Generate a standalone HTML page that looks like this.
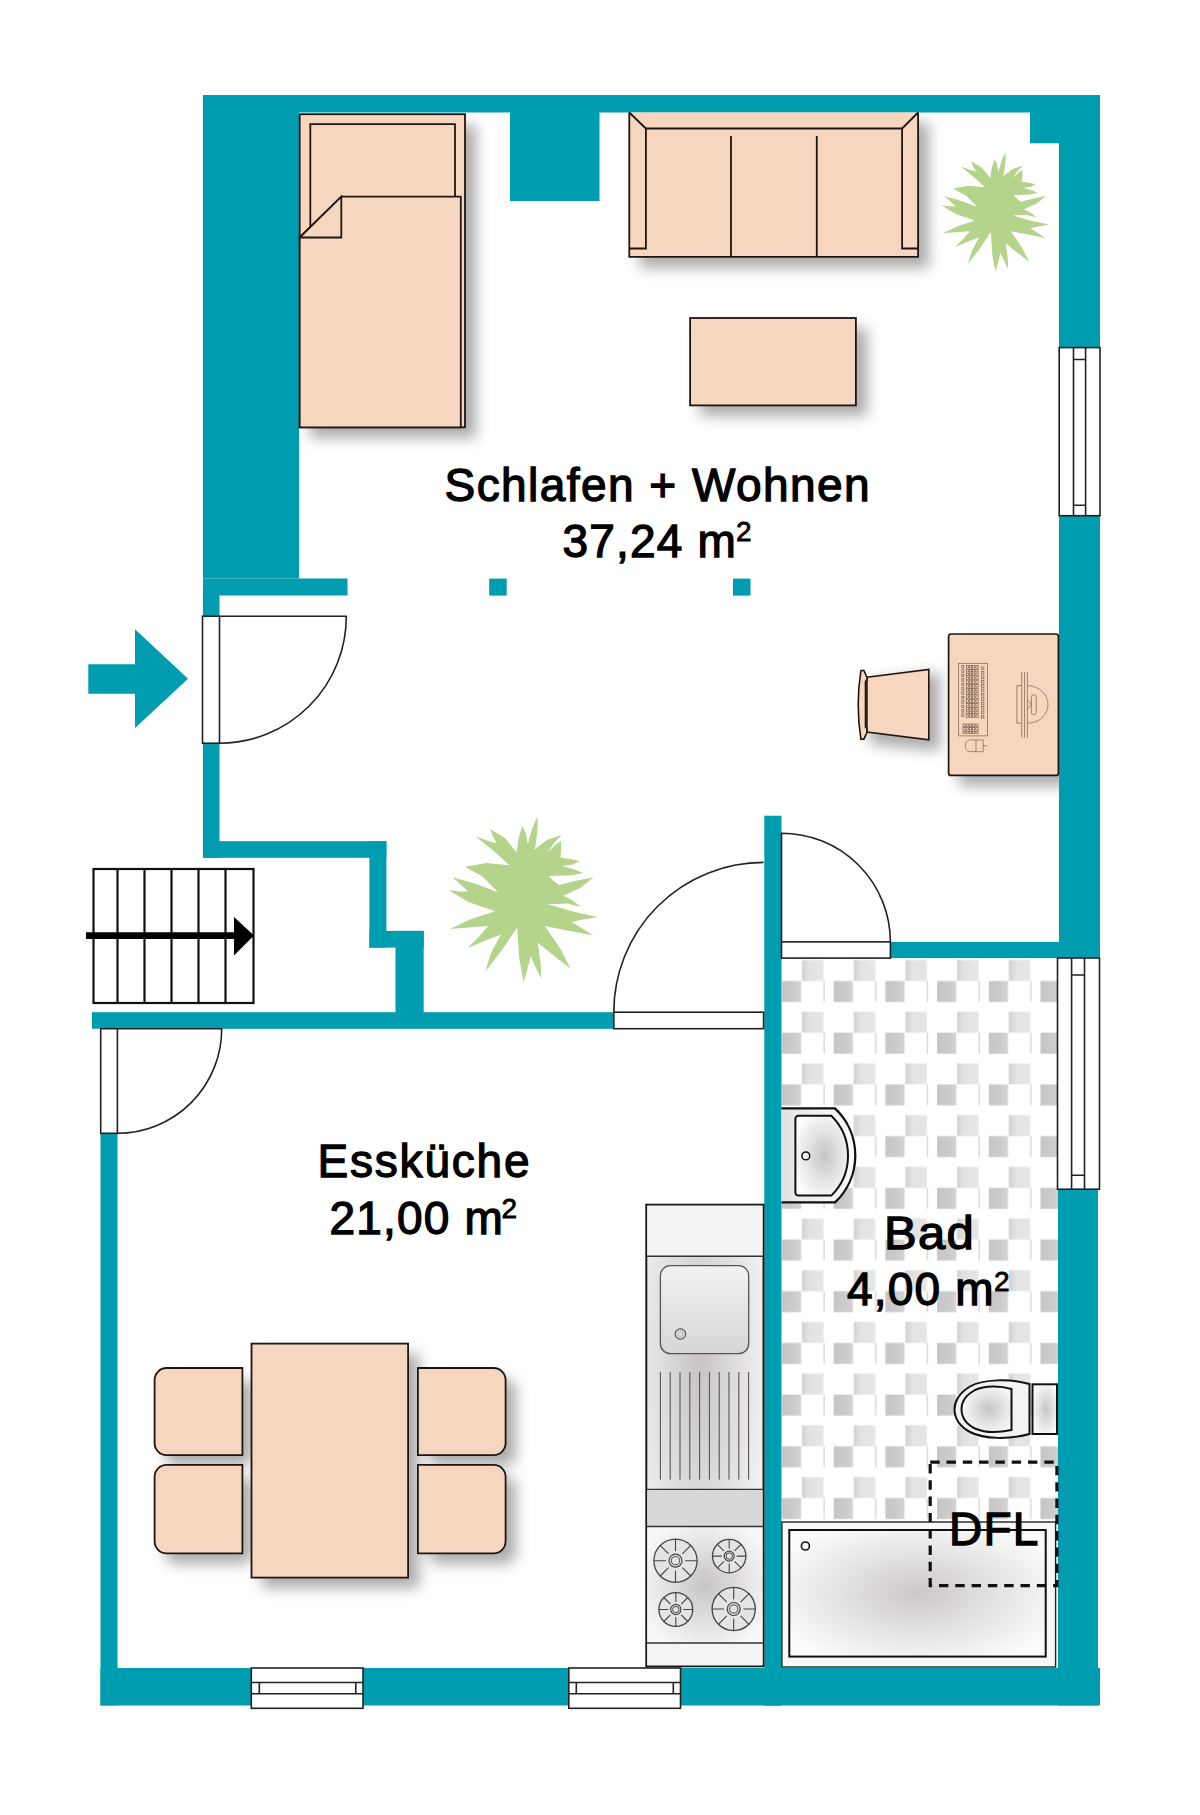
<!DOCTYPE html>
<html><head><meta charset="utf-8">
<style>
html,body{margin:0;padding:0;background:#fff;width:1200px;height:1815px;overflow:hidden}
svg{display:block;position:absolute;left:0;top:0}
text{font-family:"Liberation Sans",sans-serif;fill:#000}
</style></head>
<body>
<svg width="1200" height="1815" viewBox="0 0 1200 1815">
<defs>
<filter id="sh" x="-30%" y="-30%" width="160%" height="160%"><feGaussianBlur stdDeviation="7"/></filter>

<!-- BAD TILES -->
<linearGradient id="lt" x1="0" y1="0" x2="1" y2="0"><stop offset="0" stop-color="#d2d2d2"/><stop offset="0.35" stop-color="#e3e3e3"/><stop offset="1" stop-color="#e6e6e6"/></linearGradient>
<linearGradient id="dk" x1="0" y1="0" x2="1" y2="0"><stop offset="0" stop-color="#c6c6c6"/><stop offset="0.6" stop-color="#cbcbcb"/><stop offset="1" stop-color="#d4d4d4"/></linearGradient>
<pattern id="tiles" patternUnits="userSpaceOnUse" x="782" y="959.5" width="51.7" height="51.7">
<rect x="20" y="0.5" width="21.5" height="21" fill="url(#lt)"/>
<rect x="0" y="21.5" width="19.2" height="21" fill="url(#dk)"/>
<rect x="41.5" y="21.5" width="1" height="21" fill="#c9c9c9"/>
</pattern>

<radialGradient id="sinkg" cx="0.55" cy="0.5" r="0.6"><stop offset="0" stop-color="#c9c5c5"/><stop offset="1" stop-color="#fdfdfd"/></radialGradient>
<radialGradient id="tubg" cx="0.5" cy="0.5" r="0.6"><stop offset="0" stop-color="#cdc8c8"/><stop offset="1" stop-color="#fbfbfb"/></radialGradient>
<radialGradient id="stoveg" cx="0.5" cy="0.5" r="0.6"><stop offset="0" stop-color="#c8c4c4"/><stop offset="1" stop-color="#f8f8f8"/></radialGradient>
<linearGradient id="basing" x1="0" y1="0" x2="0" y2="1"><stop offset="0" stop-color="#f2f2f2"/><stop offset="1" stop-color="#d6d6d6"/></linearGradient>
<radialGradient id="ctrg" cx="0.45" cy="0.35" r="0.7"><stop offset="0" stop-color="#c8c4c4"/><stop offset="1" stop-color="#fbfbfb"/></radialGradient>

<linearGradient id="sinkout" x1="0" y1="0" x2="1" y2="0"><stop offset="0" stop-color="#e2e2e2"/><stop offset="0.5" stop-color="#f3f3f3"/><stop offset="1" stop-color="#fafafa"/></linearGradient>
</defs>
<rect width="1200" height="1815" fill="#fff"/>


<!-- tiles area -->
<rect x="781.5" y="958" width="276.5" height="564" fill="url(#tiles)"/>

<!-- SHADOWS -->
<g fill="#5e5e5e" opacity="0.52" filter="url(#sh)">
<rect x="310" y="125" width="166" height="313"/>
<rect x="640" y="123" width="289" height="145"/>
<rect x="700" y="328" width="167" height="88"/>
<rect x="959" y="645" width="110" height="141"/>
<path d="M870 681 L940 673 V751 L870 744 Z"/>
<rect x="262" y="1354" width="157" height="234"/>
<rect x="165" y="1379" width="88" height="87" rx="12"/>
<rect x="165" y="1476" width="88" height="88" rx="12"/>
<rect x="428" y="1379" width="88" height="87" rx="12"/>
<rect x="428" y="1476" width="88" height="88" rx="12"/>
</g>
<!-- WALLS -->
<g fill="#009cb0">
<rect x="203" y="95" width="897" height="17.5"/>
<rect x="203" y="95" width="96" height="483.5"/>
<rect x="203" y="578.5" width="144.5" height="17"/>
<rect x="203" y="595" width="16.5" height="21.5"/>
<rect x="203" y="743" width="16.5" height="114.8"/>
<rect x="203" y="841.2" width="183.4" height="16.6"/>
<rect x="369.4" y="841.2" width="17" height="106.4"/>
<rect x="369.4" y="930.9" width="54.3" height="16.7"/>
<rect x="395.5" y="930.9" width="28.2" height="90"/>
<rect x="92" y="1012.2" width="522" height="16.6"/>
<rect x="510" y="95" width="89.5" height="106"/>
<rect x="1030" y="95" width="70" height="48.3"/>
<rect x="1059" y="95" width="41" height="253"/>
<rect x="1059" y="515.7" width="41" height="442.4"/>
<rect x="890.4" y="941.9" width="209.6" height="16.2"/>
<rect x="764.3" y="815.7" width="17.2" height="890"/>
<rect x="1058" y="1189" width="40" height="516.5"/>
<rect x="100.5" y="1668" width="999.5" height="37.5"/>
<rect x="100.5" y="1133.3" width="17" height="572.2"/>
<rect x="489.2" y="578.6" width="17.5" height="17"/>
<rect x="733" y="578.6" width="17.5" height="17"/>
<!-- entry arrow -->
<path d="M88.3 664.3 H135 V629.3 L188 678.8 L135 728 V693.8 H88.3 Z"/>
</g>


<g stroke="#1e1612" stroke-width="1.8" fill="#f6d6bf" stroke-linejoin="miter">
<!-- BED -->
<rect x="299.7" y="114.2" width="165.3" height="313.1"/>
<path d="M310.3 227.1 V124.2 H455 V196.7" fill="none"/>
<path d="M341.3 196.7 H460.8 V427.3 H299.7 V237.5 Z"/>
<path d="M299.7 237.5 L341.3 196.7 V237.5 Z"/>
<!-- SOFA -->
<rect x="629.3" y="112.5" width="288.8" height="144.3" stroke="none"/><path d="M629.3 112.5 V256.8 H918.1 V112.5" fill="none"/>
<path d="M629.3 112.5 L645.9 128.5 H902.1 L918.1 112.5 M645.9 128.5 V248.5 H629.3 M902.1 128.5 V248.5 H918.1 M731 136 V256.8 M816.8 136 V256.8" fill="none"/>
<!-- COFFEE TABLE -->
<rect x="690.1" y="318" width="165.8" height="87.4"/>
<!-- DESK -->
<rect x="948.6" y="634" width="109.8" height="141.4" rx="2.5" stroke-width="1.7"/>
<!-- CHAIR -->
<path d="M866.9 677.3 L928.8 669.4 V739.9 L866.9 732 Z" stroke-width="1.6"/>
<path d="M860.9 670.5 H863.9 L866.9 677.3 V680 L865.5 681.5 V727 L866.9 728.5 V732.5 L863.9 739.1 H860.9 Q855.5 705 860.9 670.5 Z" stroke-width="1.6"/>
<!-- DINING -->
<rect x="251.5" y="1343.6" width="156.6" height="234"/>
<path d="M242.4 1368 V1455.1 H166.6 A12 12 0 0 1 154.6 1443.1 V1380 A12 12 0 0 1 166.6 1368 Z"/>
<path d="M242.4 1464.9 V1553.3 H166.6 A12 12 0 0 1 154.6 1541.3 V1476.9 A12 12 0 0 1 166.6 1464.9 Z"/>
<path d="M417.9 1368 V1455.1 H493.6 A12 12 0 0 0 505.6 1443.1 V1380 A12 12 0 0 0 493.6 1368 Z"/>
<path d="M417.9 1464.9 V1553.3 H493.6 A12 12 0 0 0 505.6 1541.3 V1476.9 A12 12 0 0 0 493.6 1464.9 Z"/>
</g>


<!-- KITCHEN COUNTER -->
<rect x="646.3" y="1204.7" width="117.2" height="461.6" fill="url(#ctrg)" stroke="#1a1a1a" stroke-width="2"/>
<rect x="647.3" y="1205.7" width="115.2" height="50.6" fill="#f3f3f3"/>
<rect x="647.3" y="1489.4" width="115.2" height="37.1" fill="#d7d7d7"/>
<rect x="647.3" y="1527.2" width="115.2" height="115.8" fill="url(#stoveg)"/>
<rect x="647.3" y="1643" width="115.2" height="22.3" fill="#f5f5f5"/>
<g stroke="#333" stroke-width="1.4" fill="none">
<path d="M646.3 1256.3 H763.5 M646.3 1489.4 H763.5 M646.3 1526.5 H763.5 M646.3 1643 H763.5"/>
</g>
<rect x="660.4" y="1265.7" width="88.3" height="88" rx="10" fill="url(#basing)" stroke="#555" stroke-width="1.3"/>
<circle cx="680.4" cy="1334" r="5.2" fill="none" stroke="#555" stroke-width="1.2"/>
<circle cx="680.4" cy="1334" r="2.6" fill="none" stroke="#aaa" stroke-width="0.8"/>
<path d="M660.4 1372 V1479.4 M670.2 1372 V1479.4 M680.0 1372 V1479.4 M689.8 1372 V1479.4 M699.6 1372 V1479.4 M709.4 1372 V1479.4 M719.2 1372 V1479.4 M729.0 1372 V1479.4 M738.8 1372 V1479.4 M748.6 1372 V1479.4 " stroke="#555" stroke-width="1.1" fill="none"/>
<circle cx="675.5" cy="1560.7" r="21.6" fill="#e4e4e4" stroke="#444" stroke-width="1.3"/><circle cx="675.5" cy="1560.7" r="6.5" fill="none" stroke="#444" stroke-width="1.2"/><circle cx="675.5" cy="1560.7" r="4.1" fill="none" stroke="#444" stroke-width="1"/><path d="M685.2 1560.7 L697.1 1560.7 M682.4 1567.6 L690.8 1576.0 M675.5 1570.4 L675.5 1582.3 M668.6 1567.6 L660.2 1576.0 M665.8 1560.7 L653.9 1560.7 M668.6 1553.8 L660.2 1545.4 M675.5 1551.0 L675.5 1539.1 M682.4 1553.8 L690.8 1545.4 " stroke="#444" stroke-width="1.1"/>
<circle cx="729.2" cy="1556.1" r="16.7" fill="#e4e4e4" stroke="#444" stroke-width="1.3"/><circle cx="729.2" cy="1556.1" r="5.0" fill="none" stroke="#444" stroke-width="1.2"/><circle cx="729.2" cy="1556.1" r="3.2" fill="none" stroke="#444" stroke-width="1"/><path d="M736.7 1556.1 L745.9 1556.1 M734.5 1561.4 L741.0 1567.9 M729.2 1563.6 L729.2 1572.8 M723.9 1561.4 L717.4 1567.9 M721.7 1556.1 L712.5 1556.1 M723.9 1550.8 L717.4 1544.3 M729.2 1548.6 L729.2 1539.4 M734.5 1550.8 L741.0 1544.3 " stroke="#444" stroke-width="1.1"/>
<circle cx="675.8" cy="1609.5" r="16.9" fill="#e4e4e4" stroke="#444" stroke-width="1.3"/><circle cx="675.8" cy="1609.5" r="5.1" fill="none" stroke="#444" stroke-width="1.2"/><circle cx="675.8" cy="1609.5" r="3.2" fill="none" stroke="#444" stroke-width="1"/><path d="M683.4 1609.5 L692.7 1609.5 M681.2 1614.9 L687.8 1621.5 M675.8 1617.1 L675.8 1626.4 M670.4 1614.9 L663.8 1621.5 M668.2 1609.5 L658.9 1609.5 M670.4 1604.1 L663.8 1597.5 M675.8 1601.9 L675.8 1592.6 M681.2 1604.1 L687.8 1597.5 " stroke="#444" stroke-width="1.1"/>
<circle cx="733.7" cy="1609" r="21.6" fill="#e4e4e4" stroke="#444" stroke-width="1.3"/><circle cx="733.7" cy="1609" r="6.5" fill="none" stroke="#444" stroke-width="1.2"/><circle cx="733.7" cy="1609" r="4.1" fill="none" stroke="#444" stroke-width="1"/><path d="M743.4 1609.0 L755.3 1609.0 M740.6 1615.9 L749.0 1624.3 M733.7 1618.7 L733.7 1630.6 M726.8 1615.9 L718.4 1624.3 M724.0 1609.0 L712.1 1609.0 M726.8 1602.1 L718.4 1593.7 M733.7 1599.3 L733.7 1587.4 M740.6 1602.1 L749.0 1593.7 " stroke="#444" stroke-width="1.1"/>

<!-- SINK -->
<path d="M781.5 1108.4 H835 A64.6 64.6 0 0 1 835 1202.4 H781.5 Z" fill="url(#sinkout)"/><path d="M781.5 1108.4 H835 A64.6 64.6 0 0 1 835 1202.4 H781.5" fill="none" stroke="#111" stroke-width="2.3"/>
<path d="M798.5 1115.8 H831.3 A56 56 0 0 1 831.3 1195.6 H798.5 A3 3 0 0 1 795.4 1192.6 V1118.8 A3 3 0 0 1 798.5 1115.8 Z" fill="url(#sinkg)" stroke="#111" stroke-width="2"/>
<circle cx="805.8" cy="1155.9" r="3.9" fill="#eee" stroke="#111" stroke-width="1.5"/>
<!-- TOILET -->
<rect x="1032.5" y="1384.3" width="24.5" height="49.7" fill="url(#sinkg)" stroke="#111" stroke-width="2"/>
<path d="M1029.5 1384 C1010 1378.5 983 1379 970 1386.5 C959 1393 954.5 1402 954.5 1409 C954.5 1417 959 1426 970 1432 C984 1439.5 1010 1439.5 1029.5 1434 Z" fill="#f3f3f3" stroke="#111" stroke-width="2"/>
<path d="M1011.5 1389 C1000 1385.5 985 1385.5 975 1390 C966 1395 961.5 1402 961.5 1409 C961.5 1417 966 1424 975 1428.5 C985 1433 1000 1432.5 1011.5 1430 Z" fill="url(#sinkg)" stroke="#111" stroke-width="2"/>
<!-- BATHTUB -->
<rect x="781.9" y="1522" width="273.7" height="145" fill="#f8f8f8" stroke="#222" stroke-width="1.4"/>
<rect x="789.3" y="1530" width="256.4" height="126.6" fill="url(#tubg)" stroke="#111" stroke-width="2"/>
<circle cx="805.4" cy="1546" r="4" fill="none" stroke="#111" stroke-width="1.6"/>
<!-- DFL -->
<rect x="930.2" y="1462.2" width="126.7" height="123.4" fill="none" stroke="#111" stroke-width="3.2" stroke-dasharray="9.4 6.9"/>
<g stroke="#7a6050" stroke-width="0.7" fill="none"><rect x="958.7" y="663.3" width="28.9" height="72.6"/><rect x="966.2" y="665.5" width="2.3" height="2.6"/><rect x="969.4" y="665.5" width="2.3" height="2.6"/><rect x="972.6" y="665.5" width="2.3" height="2.6"/><rect x="975.8" y="665.5" width="2.3" height="2.6"/><rect x="966.2" y="669.3" width="2.3" height="2.6"/><rect x="969.4" y="669.3" width="2.3" height="2.6"/><rect x="972.6" y="669.3" width="2.3" height="2.6"/><rect x="975.8" y="669.3" width="2.3" height="2.6"/><rect x="966.2" y="673.1" width="2.3" height="2.6"/><rect x="969.4" y="673.1" width="2.3" height="2.6"/><rect x="972.6" y="673.1" width="2.3" height="2.6"/><rect x="975.8" y="673.1" width="2.3" height="2.6"/><rect x="966.2" y="676.9" width="2.3" height="2.6"/><rect x="969.4" y="676.9" width="2.3" height="2.6"/><rect x="972.6" y="676.9" width="2.3" height="2.6"/><rect x="975.8" y="676.9" width="2.3" height="2.6"/><rect x="966.2" y="680.7" width="2.3" height="2.6"/><rect x="969.4" y="680.7" width="2.3" height="2.6"/><rect x="972.6" y="680.7" width="2.3" height="2.6"/><rect x="975.8" y="680.7" width="2.3" height="2.6"/><rect x="966.2" y="684.5" width="2.3" height="2.6"/><rect x="969.4" y="684.5" width="2.3" height="2.6"/><rect x="972.6" y="684.5" width="2.3" height="2.6"/><rect x="975.8" y="684.5" width="2.3" height="2.6"/><rect x="966.2" y="688.3" width="2.3" height="2.6"/><rect x="969.4" y="688.3" width="2.3" height="2.6"/><rect x="972.6" y="688.3" width="2.3" height="2.6"/><rect x="975.8" y="688.3" width="2.3" height="2.6"/><rect x="966.2" y="692.1" width="2.3" height="2.6"/><rect x="969.4" y="692.1" width="2.3" height="2.6"/><rect x="972.6" y="692.1" width="2.3" height="2.6"/><rect x="975.8" y="692.1" width="2.3" height="2.6"/><rect x="966.2" y="695.9" width="2.3" height="2.6"/><rect x="969.4" y="695.9" width="2.3" height="2.6"/><rect x="972.6" y="695.9" width="2.3" height="2.6"/><rect x="975.8" y="695.9" width="2.3" height="2.6"/><rect x="966.2" y="699.7" width="2.3" height="2.6"/><rect x="969.4" y="699.7" width="2.3" height="2.6"/><rect x="972.6" y="699.7" width="2.3" height="2.6"/><rect x="975.8" y="699.7" width="2.3" height="2.6"/><rect x="966.2" y="703.5" width="2.3" height="2.6"/><rect x="969.4" y="703.5" width="2.3" height="2.6"/><rect x="972.6" y="703.5" width="2.3" height="2.6"/><rect x="975.8" y="703.5" width="2.3" height="2.6"/><rect x="966.2" y="707.3" width="2.3" height="2.6"/><rect x="969.4" y="707.3" width="2.3" height="2.6"/><rect x="972.6" y="707.3" width="2.3" height="2.6"/><rect x="975.8" y="707.3" width="2.3" height="2.6"/><rect x="966.2" y="711.1" width="2.3" height="2.6"/><rect x="969.4" y="711.1" width="2.3" height="2.6"/><rect x="972.6" y="711.1" width="2.3" height="2.6"/><rect x="975.8" y="711.1" width="2.3" height="2.6"/><rect x="966.2" y="714.9" width="2.3" height="2.6"/><rect x="969.4" y="714.9" width="2.3" height="2.6"/><rect x="972.6" y="714.9" width="2.3" height="2.6"/><rect x="975.8" y="714.9" width="2.3" height="2.6"/><rect x="961.8" y="665.5" width="2" height="2.6"/><rect x="981.5" y="667.0" width="2.4" height="2.6"/><rect x="961.8" y="669.9" width="2" height="2.6"/><rect x="981.5" y="671.4" width="2.4" height="2.6"/><rect x="961.8" y="674.3" width="2" height="2.6"/><rect x="981.5" y="675.8" width="2.4" height="2.6"/><rect x="961.8" y="678.7" width="2" height="2.6"/><rect x="981.5" y="680.2" width="2.4" height="2.6"/><rect x="961.8" y="683.1" width="2" height="2.6"/><rect x="981.5" y="684.6" width="2.4" height="2.6"/><rect x="961.8" y="687.5" width="2" height="2.6"/><rect x="981.5" y="689.0" width="2.4" height="2.6"/><rect x="961.8" y="691.9" width="2" height="2.6"/><rect x="981.5" y="693.4" width="2.4" height="2.6"/><rect x="961.8" y="696.3" width="2" height="2.6"/><rect x="981.5" y="697.8" width="2.4" height="2.6"/><rect x="961.8" y="700.7" width="2" height="2.6"/><rect x="981.5" y="702.2" width="2.4" height="2.6"/><rect x="961.8" y="705.1" width="2" height="2.6"/><rect x="981.5" y="706.6" width="2.4" height="2.6"/><rect x="961.8" y="709.5" width="2" height="2.6"/><rect x="981.5" y="711.0" width="2.4" height="2.6"/><rect x="961.8" y="713.9" width="2" height="2.6"/><rect x="981.5" y="715.4" width="2.4" height="2.6"/><rect x="963.0" y="724.0" width="2.3" height="2.4"/><rect x="966.2" y="724.0" width="2.3" height="2.4"/><rect x="969.4" y="724.0" width="2.3" height="2.4"/><rect x="972.6" y="724.0" width="2.3" height="2.4"/><rect x="975.8" y="724.0" width="2.3" height="2.4"/><rect x="963.0" y="727.6" width="2.3" height="2.4"/><rect x="966.2" y="727.6" width="2.3" height="2.4"/><rect x="969.4" y="727.6" width="2.3" height="2.4"/><rect x="972.6" y="727.6" width="2.3" height="2.4"/><rect x="975.8" y="727.6" width="2.3" height="2.4"/><rect x="963.0" y="731.2" width="2.3" height="2.4"/><rect x="966.2" y="731.2" width="2.3" height="2.4"/><rect x="969.4" y="731.2" width="2.3" height="2.4"/><rect x="972.6" y="731.2" width="2.3" height="2.4"/><rect x="975.8" y="731.2" width="2.3" height="2.4"/><path d="M965.3 745.8 C965.3 741 968 739.9 972 739.9 H983.2 V751.7 H972 C968 751.7 965.3 750.6 965.3 745.8 Z M983.2 745.8 H987 M976 739.9 V751.7"/><path d="M1021.7 672 V737.7 M1027.4 672 V737.7 M1024.5 672 V737.7"/><path d="M1021.7 685.6 H1016.9 V723.2 H1021.7 M1027.4 685.6 C1040 686 1048 695 1048 704.4 C1048 714 1040 723 1027.4 723.2"/><rect x="1031.4" y="694.8" width="4.8" height="19.7" rx="2"/><path d="M1027.4 700 L1031.4 704.4 L1027.4 709"/></g>

<!-- PLANTS -->
<g fill="#b4d38b">
<path d="M537.5,816.4 L537.7,827.0 L535.6,845.4 L534.2,849.7 L547.6,839.7 L561.8,834.8 L553.3,844.0 L547.6,852.5 L556.1,844.0 L561.1,841.2 L561.1,851.1 L560.4,857.5 L570.3,858.9 L579.5,861.0 L573.1,864.5 L561.8,865.9 L574.6,869.5 L583.1,873.0 L571.7,875.2 L549.1,875.9 L553.3,880.8 L559.0,885.1 L576.0,880.8 L593.7,877.3 L580.2,887.9 L563.2,895.7 L573.1,900.7 L580.9,907.0 L567.5,903.5 L547.6,904.2 L574.6,912.0 L597.9,916.9 L581.6,919.8 L571.7,921.9 L583.1,929.0 L593.0,935.4 L567.5,930.4 L544.8,926.1 L560.4,948.8 L570.3,968.6 L550.5,953.1 L537.7,942.4 L540.6,963.0 L541.3,978.6 L534.9,965.8 L530.7,955.9 L526.4,972.9 L523.6,982.1 L519.3,958.7 L517.2,927.6 L500.9,951.6 L485.3,971.5 L491.0,953.1 L500.9,934.6 L482.5,941.7 L467.6,948.1 L478.2,937.5 L488.2,926.1 L468.3,927.6 L449.9,929.0 L471.2,919.1 L495.2,911.3 L468.3,902.1 L448.5,890.0 L458.4,891.4 L468.3,891.4 L459.8,883.7 L452.7,877.3 L475.4,883.7 L498.1,892.2 L482.5,876.6 L464.8,866.7 L486.7,863.1 L509.4,865.2 L493.8,851.1 L475.4,836.2 L486.7,840.5 L496.7,843.3 L492.4,835.5 L490.3,829.1 L505.2,838.3 L516.5,852.5 L518.6,838.3 L522.2,826.3 L525.7,832.7 L527.8,844.0 L532.1,828.4 Z"/>
<path transform="translate(995 211.7) scale(0.72) translate(-523 -899)" d="M537.5,816.4 L537.7,827.0 L535.6,845.4 L534.2,849.7 L547.6,839.7 L561.8,834.8 L553.3,844.0 L547.6,852.5 L556.1,844.0 L561.1,841.2 L561.1,851.1 L560.4,857.5 L570.3,858.9 L579.5,861.0 L573.1,864.5 L561.8,865.9 L574.6,869.5 L583.1,873.0 L571.7,875.2 L549.1,875.9 L553.3,880.8 L559.0,885.1 L576.0,880.8 L593.7,877.3 L580.2,887.9 L563.2,895.7 L573.1,900.7 L580.9,907.0 L567.5,903.5 L547.6,904.2 L574.6,912.0 L597.9,916.9 L581.6,919.8 L571.7,921.9 L583.1,929.0 L593.0,935.4 L567.5,930.4 L544.8,926.1 L560.4,948.8 L570.3,968.6 L550.5,953.1 L537.7,942.4 L540.6,963.0 L541.3,978.6 L534.9,965.8 L530.7,955.9 L526.4,972.9 L523.6,982.1 L519.3,958.7 L517.2,927.6 L500.9,951.6 L485.3,971.5 L491.0,953.1 L500.9,934.6 L482.5,941.7 L467.6,948.1 L478.2,937.5 L488.2,926.1 L468.3,927.6 L449.9,929.0 L471.2,919.1 L495.2,911.3 L468.3,902.1 L448.5,890.0 L458.4,891.4 L468.3,891.4 L459.8,883.7 L452.7,877.3 L475.4,883.7 L498.1,892.2 L482.5,876.6 L464.8,866.7 L486.7,863.1 L509.4,865.2 L493.8,851.1 L475.4,836.2 L486.7,840.5 L496.7,843.3 L492.4,835.5 L490.3,829.1 L505.2,838.3 L516.5,852.5 L518.6,838.3 L522.2,826.3 L525.7,832.7 L527.8,844.0 L532.1,828.4 Z"/>
</g>

<!-- WINDOWS -->
<g fill="#fff" stroke="#222" stroke-width="1.6">
<rect x="1059.2" y="347.6" width="40.8" height="168.1"/>
<path d="M1073.5 347.6 V515.7 M1085.6 347.6 V515.7 M1073.5 359.5 H1085.6 M1073.5 505.2 H1085.6" fill="none"/>
<rect x="1057.5" y="958" width="42" height="231.2"/>
<path d="M1071.6 958 V1189.2 M1084.5 958 V1189.2 M1071.6 975 H1084.5 M1071.6 1175.2 H1084.5" fill="none"/>
<rect x="251.3" y="1668" width="111.7" height="40.3"/>
<path d="M251.3 1682.5 H363 M251.3 1693.8 H363 M259.3 1682.5 V1693.8 M355.8 1682.5 V1693.8" fill="none"/>
<rect x="568.8" y="1668" width="111.7" height="40.3"/>
<path d="M568.8 1682.5 H680.5 M568.8 1693.8 H680.5 M576.3 1682.5 V1693.8 M673.3 1682.5 V1693.8" fill="none"/>
</g>

<!-- DOORS -->
<g fill="none" stroke="#222" stroke-width="1.6">
<rect x="202.5" y="616.2" width="17" height="127" fill="#fff"/>
<path d="M219.5 616.2 H346.3 A126.8 126.8 0 0 1 219.5 743.2"/>
<rect x="100.7" y="1028.7" width="16.7" height="104.6" fill="#fff"/>
<path d="M117.4 1028.7 H221.7 A104.4 104.4 0 0 1 117.4 1133.3"/>
<rect x="613.8" y="1012.2" width="149.8" height="16.5" fill="#fff"/>
<path d="M613.8 1012.2 A149.8 149.8 0 0 1 763.6 862.4"/>
<rect x="781.5" y="941.9" width="108.9" height="16.2" fill="#fff"/>
<path d="M781.5 941.9 V833.2 A108.8 108.8 0 0 1 890.4 941.9"/>
</g>

<!-- STAIRS -->
<g fill="none" stroke="#111" stroke-width="2.2">
<rect x="93.5" y="869" width="160" height="134"/>
<path d="M117.5 869 V1003 M144.5 869 V1003 M171.5 869 V1003 M198.5 869 V1003 M225.5 869 V1003"/>
</g>
<path d="M86 932.3 H234 V917 L254 935.6 L234 955.4 V939 H86 Z" fill="#000"/>

<!-- TEXT -->
<g font-size="46" stroke="#000" stroke-width="1.3" letter-spacing="1.2">
<text x="444.5" y="500.7" letter-spacing="1.45">Schlafen + Wohnen</text>
<text x="562.5" y="557.3">37,24 m</text>
<text x="317.5" y="1177.4" letter-spacing="1.8">Essküche</text>
<text x="329.5" y="1234.2">21,00 m</text>
<text x="884" y="1249.5" transform="translate(884 0) scale(1.065 1) translate(-884 0)">Bad</text>
<text x="847" y="1305.3">4,00 m</text>
<text x="949" y="1545">DFL</text>
</g>
<g font-size="28" stroke="#000" stroke-width="0.8">
<text x="736" y="541">2</text>
<text x="501.5" y="1217.5">2</text>
<text x="994" y="1290.5">2</text>
</g>
</svg>
</body></html>
